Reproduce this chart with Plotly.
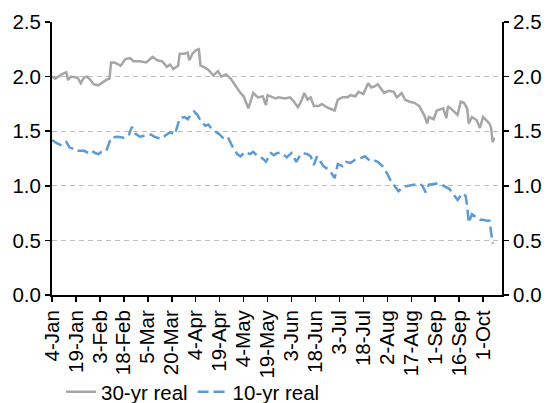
import plotly.graph_objects as go

# ---- data ----
dates_30 = [
    "2010-01-04", "2010-01-06", "2010-01-10", "2010-01-13", "2010-01-14", "2010-01-16",
    "2010-01-20", "2010-01-22", "2010-01-24", "2010-01-26", "2010-01-28", "2010-01-30",
    "2010-02-02", "2010-02-04", "2010-02-07", "2010-02-09", "2010-02-10", "2010-02-12",
    "2010-02-16", "2010-02-19", "2010-02-22", "2010-02-24", "2010-02-28", "2010-03-04",
    "2010-03-06", "2010-03-08", "2010-03-11", "2010-03-14", "2010-03-17", "2010-03-19",
    "2010-03-21", "2010-03-24", "2010-03-25", "2010-03-28", "2010-03-30", "2010-03-31",
    "2010-04-02", "2010-04-04", "2010-04-06", "2010-04-07", "2010-04-09", "2010-04-12",
    "2010-04-15", "2010-04-18", "2010-04-20", "2010-04-23", "2010-04-26", "2010-04-29",
    "2010-05-02", "2010-05-04", "2010-05-07", "2010-05-10", "2010-05-13", "2010-05-16",
    "2010-05-18", "2010-05-19", "2010-05-23", "2010-05-24", "2010-05-26", "2010-05-30",
    "2010-06-02", "2010-06-04", "2010-06-07", "2010-06-09", "2010-06-11", "2010-06-13",
    "2010-06-15", "2010-06-17", "2010-06-20", "2010-06-22", "2010-06-25", "2010-06-27",
    "2010-06-30", "2010-07-02", "2010-07-05", "2010-07-08", "2010-07-10", "2010-07-13",
    "2010-07-15", "2010-07-18", "2010-07-20", "2010-07-21", "2010-07-23", "2010-07-25",
    "2010-07-27", "2010-07-29", "2010-07-31", "2010-08-03", "2010-08-06", "2010-08-08",
    "2010-08-11", "2010-08-13", "2010-08-16", "2010-08-19", "2010-08-22", "2010-08-25",
    "2010-08-27", "2010-08-28", "2010-08-31", "2010-09-02", "2010-09-06", "2010-09-08",
    "2010-09-09", "2010-09-12", "2010-09-15", "2010-09-17", "2010-09-19", "2010-09-21",
    "2010-09-22", "2010-09-24", "2010-09-27", "2010-09-29", "2010-10-01", "2010-10-03",
    "2010-10-05", "2010-10-06", "2010-10-07", "2010-10-08",
]
real_30 = [
    2.00, 1.98, 2.02, 2.04, 1.97, 2.00,
    1.99, 1.94, 1.99, 2.00, 1.97, 1.93,
    1.92, 1.94, 1.97, 1.98, 2.13, 2.13,
    2.10, 2.16, 2.17, 2.14, 2.14, 2.13,
    2.16, 2.18, 2.15, 2.14, 2.09, 2.11,
    2.07, 2.10, 2.21, 2.21, 2.22, 2.15,
    2.21, 2.24, 2.25, 2.10, 2.09, 2.06,
    2.01, 2.05, 2.00, 2.02, 1.98, 1.91,
    1.85, 1.82, 1.71, 1.85, 1.81, 1.82,
    1.74, 1.83, 1.80, 1.80, 1.81, 1.80,
    1.81, 1.78, 1.72, 1.77, 1.85, 1.79,
    1.81, 1.73, 1.73, 1.75, 1.72, 1.71,
    1.69, 1.79, 1.81, 1.81, 1.83, 1.82,
    1.86, 1.84, 1.91, 1.94, 1.90, 1.91,
    1.93, 1.89, 1.85, 1.87, 1.86, 1.81,
    1.85, 1.79, 1.77, 1.76, 1.73, 1.65,
    1.57, 1.63, 1.61, 1.69, 1.71, 1.62,
    1.73, 1.69, 1.65, 1.77, 1.76, 1.71,
    1.57, 1.63, 1.60, 1.53, 1.63, 1.60,
    1.57, 1.53, 1.40, 1.44,
]

dates_10 = [
    "2010-01-04", "2010-01-07", "2010-01-10", "2010-01-13", "2010-01-15", "2010-01-17",
    "2010-01-19", "2010-01-24", "2010-01-27", "2010-01-29", "2010-01-31", "2010-02-02",
    "2010-02-04", "2010-02-07", "2010-02-10", "2010-02-14", "2010-02-18", "2010-02-21",
    "2010-02-23", "2010-02-25", "2010-02-28", "2010-03-04", "2010-03-07", "2010-03-09",
    "2010-03-13", "2010-03-16", "2010-03-19", "2010-03-22", "2010-03-25", "2010-03-28",
    "2010-03-30", "2010-04-01", "2010-04-03", "2010-04-05", "2010-04-07", "2010-04-10",
    "2010-04-12", "2010-04-14", "2010-04-16", "2010-04-19", "2010-04-21", "2010-04-24",
    "2010-04-27", "2010-04-30", "2010-05-02", "2010-05-05", "2010-05-08", "2010-05-10",
    "2010-05-13", "2010-05-16", "2010-05-18", "2010-05-21", "2010-05-23", "2010-05-25",
    "2010-05-28", "2010-05-31", "2010-06-03", "2010-06-06", "2010-06-08", "2010-06-10",
    "2010-06-13", "2010-06-15", "2010-06-17", "2010-06-19", "2010-06-23", "2010-06-27",
    "2010-06-30", "2010-07-02", "2010-07-05", "2010-07-07", "2010-07-10", "2010-07-13",
    "2010-07-16", "2010-07-19", "2010-07-22", "2010-07-25", "2010-07-27", "2010-07-30",
    "2010-08-02", "2010-08-04", "2010-08-06", "2010-08-09", "2010-08-12", "2010-08-15",
    "2010-08-18", "2010-08-20", "2010-08-22", "2010-08-24", "2010-08-26", "2010-08-28",
    "2010-08-31", "2010-09-02", "2010-09-05", "2010-09-08", "2010-09-10", "2010-09-12",
    "2010-09-15", "2010-09-18", "2010-09-20", "2010-09-21", "2010-09-22", "2010-09-24",
    "2010-09-27", "2010-09-29", "2010-10-01", "2010-10-03", "2010-10-05", "2010-10-06",
    "2010-10-07",
]
real_10 = [
    1.42, 1.39, 1.37, 1.40, 1.35, 1.34,
    1.32, 1.32, 1.30, 1.32, 1.30, 1.29,
    1.31, 1.32, 1.44, 1.45, 1.44, 1.46,
    1.54, 1.48, 1.45, 1.46, 1.47, 1.45,
    1.43, 1.46, 1.49, 1.47, 1.62, 1.63,
    1.61, 1.65, 1.68, 1.65, 1.60, 1.55,
    1.56, 1.52, 1.50, 1.47, 1.44, 1.45,
    1.36, 1.29, 1.27, 1.31, 1.29, 1.31,
    1.27, 1.25, 1.22, 1.30, 1.28, 1.30,
    1.30, 1.26, 1.30, 1.22, 1.27, 1.30,
    1.29, 1.27, 1.19, 1.27, 1.18, 1.14,
    1.07, 1.20, 1.18, 1.22, 1.21, 1.24,
    1.25, 1.27, 1.23, 1.23, 1.22, 1.18,
    1.11, 1.05, 1.01, 0.95, 0.99, 1.00,
    1.01, 1.02, 1.02, 1.00, 0.94, 1.01,
    1.02, 1.02, 1.01, 0.99, 0.97, 0.93,
    0.87, 0.93, 0.91, 0.82, 0.66, 0.74,
    0.71, 0.69, 0.69, 0.68, 0.68, 0.55,
    0.47,
]

y_ticks = [0.0, 0.5, 1.0, 1.5, 2.0, 2.5]
y_ticktext = ["0.0", "0.5", "1.0", "1.5", "2.0", "2.5"]
x_start = "2010-01-04"
x_end = "2010-10-12 20:00"

FONT = "Liberation Sans, Arial, sans-serif"

fig = go.Figure()
fig.add_trace(go.Scatter(
    x=dates_30, y=real_30, name="30-yr real", mode="lines",
    line=dict(color="#A6A6A6", width=2.5),
))
fig.add_trace(go.Scatter(
    x=dates_10, y=real_10, name="10-yr real", mode="lines", yaxis="y2",
    line=dict(color="#5B9BD5", width=2.5, dash="11px,5px"),
))

yax = dict(
    range=[0, 2.5], tickvals=y_ticks, ticktext=y_ticktext,
    showline=True, linecolor="black", linewidth=2,
    ticks="outside", ticklen=5, tickwidth=1.5, tickcolor="black",
    zeroline=False, tickfont=dict(size=20.5, color="black", family=FONT),
    fixedrange=True,
)

fig.update_layout(
    width=552, height=403,
    margin=dict(l=52, r=50, t=22, b=108, autoexpand=False),
    paper_bgcolor="white", plot_bgcolor="white",
    font=dict(family=FONT, size=20, color="black"),
    xaxis=dict(
        type="date", range=[x_start, x_end],
        tick0=x_start, dtick=15 * 86400000, tickformat="%-d-%b",
        tickangle=-90, showgrid=False,
        showline=True, linecolor="black", linewidth=2,
        ticks="outside", ticklen=5, tickwidth=1.5, tickcolor="black",
        tickfont=dict(size=20.5, color="black", family=FONT),
        automargin=False, fixedrange=True,
    ),
    yaxis=dict(**yax, side="left", showgrid=True, gridcolor="#BFBFBF",
               gridwidth=1, griddash="5px,4px", automargin=False),
    yaxis2=dict(**yax, side="right", overlaying="y", showgrid=False,
                automargin=False),
    legend=dict(
        orientation="h", x=0.02, xanchor="left", y=-0.355, yanchor="middle",
        font=dict(size=20.5, color="black", family=FONT),
        bgcolor="rgba(0,0,0,0)", itemwidth=30, tracegroupgap=0,
    ),
    showlegend=True,
)

fig.write_html(
    "out.html",
    config={"displayModeBar": False, "staticPlot": True},
    post_script="document.body.style.margin='0';document.body.style.overflow='hidden';",
)
